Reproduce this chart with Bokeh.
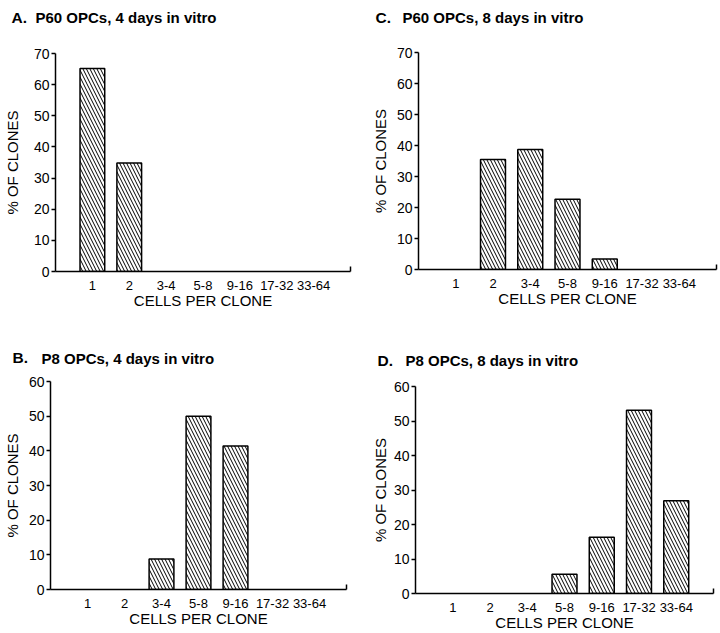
from bokeh.plotting import figure
from bokeh.models import Range1d, FixedTicker, Label, ColumnDataSource
from bokeh.layouts import column, row
from bokeh.embed import file_html
from bokeh.resources import INLINE

# ---- data ----
categories = ["1", "2", "3-4", "5-8", "9-16", "17-32", "33-64"]
a_values = [65.2, 34.8, 0, 0, 0, 0, 0]          # P60, 4 days
c_values = [0, 35.5, 38.7, 22.7, 3.4, 0, 0]     # P60, 8 days
b_values = [0, 0, 8.8, 50.0, 41.4, 0, 0]        # P8, 4 days
d_values = [0, 0, 0, 5.6, 16.3, 53.1, 26.9]     # P8, 8 days

a_ymax, c_ymax, b_ymax, d_ymax = 70, 70, 60, 60
y_step = 10

titles = {
    "A": "P60 OPCs, 4 days in vitro",
    "C": "P60 OPCs, 8 days in vitro",
    "B": "P8 OPCs, 4 days in vitro",
    "D": "P8 OPCs, 8 days in vitro",
}
x_label = "CELLS PER CLONE"
y_label = "% OF CLONES"

FONT = "Liberation Sans"


def make_panel(letter, values, ymax, w, h, bl, br, bt, bb, ylab_standoff,
               letter_x, title_x, letter_base, title_base):
    positions = [i + 1 for i in range(len(categories))]
    xs = [x for x, v in zip(positions, values) if v > 0]
    tops = [v for v in values if v > 0]
    src = ColumnDataSource(dict(x=xs, top=tops))

    p = figure(width=w, height=h, output_backend="svg", toolbar_location=None,
               x_range=Range1d(0, len(categories) + 1), y_range=Range1d(0, ymax),
               min_border_left=bl, min_border_right=br,
               min_border_top=bt, min_border_bottom=bb)
    p.outline_line_color = None
    p.xgrid.visible = False
    p.ygrid.visible = False
    p.background_fill_color = "white"
    p.border_fill_color = "white"

    p.vbar(x="x", top="top", bottom=0, width=0.67, source=src,
           fill_color="white", line_color="black", line_width=1.5,
           hatch_pattern="\\", hatch_color="black", hatch_weight=1.0,
           hatch_scale=7)

    # x axis
    xa = p.xaxis[0]
    xa.ticker = FixedTicker(ticks=positions, minor_ticks=[len(categories) + 1])
    xa.major_label_overrides = {pos: lab for pos, lab in zip(positions, categories)}
    xa.major_tick_in = 0
    xa.major_tick_out = 0
    xa.minor_tick_in = 5
    xa.minor_tick_out = 0
    xa.minor_tick_line_width = 1.5
    xa.minor_tick_line_color = "black"
    xa.axis_line_width = 1.5
    xa.axis_line_color = "black"
    xa.major_label_text_font = FONT
    xa.major_label_text_font_size = "13px"
    xa.major_label_text_color = "black"
    xa.major_label_standoff = 9
    xa.axis_label = x_label
    xa.axis_label_text_font = FONT
    xa.axis_label_text_font_size = "15px"
    xa.axis_label_text_font_style = "normal"
    xa.axis_label_text_color = "black"
    xa.axis_label_standoff = -1

    # y axis
    ya = p.yaxis[0]
    ya.ticker = FixedTicker(ticks=list(range(0, ymax + 1, y_step)), minor_ticks=[])
    ya.major_tick_in = 0
    ya.major_tick_out = 4
    ya.major_tick_line_width = 1.5
    ya.major_tick_line_color = "black"
    ya.minor_tick_in = 0
    ya.minor_tick_out = 0
    ya.axis_line_width = 1.5
    ya.axis_line_color = "black"
    ya.major_label_text_font = FONT
    ya.major_label_text_font_size = "14px"
    ya.major_label_text_color = "black"
    ya.major_label_standoff = 2
    ya.axis_label = y_label
    ya.axis_label_text_font = FONT
    ya.axis_label_text_font_size = "15px"
    ya.axis_label_text_font_style = "normal"
    ya.axis_label_text_color = "black"
    ya.axis_label_standoff = ylab_standoff

    # panel letter and title, in canvas pixels
    p.title.text = ""
    p.add_layout(Label(x=letter_x, y=letter_base, x_units="canvas", y_units="canvas",
                       text=letter + ".", text_font=FONT, text_font_size="15.5px",
                       text_font_style="bold", text_color="black",
                       text_baseline="alphabetic"), "above")
    p.add_layout(Label(x=title_x, y=title_base, x_units="canvas", y_units="canvas",
                       text=titles[letter], text_font=FONT, text_font_size="15px",
                       text_font_style="bold", text_color="black",
                       text_baseline="alphabetic"), "above")
    return p


# top row canvases start 8px above the page (layout margin)
pA = make_panel("A", a_values, a_ymax, 362, 326, 52, 12, 61, 47, 10, 11, 35, 25, 25)
pC = make_panel("C", c_values, c_ymax, 358, 326, 56, 4, 60, 49, 5, 13, 40, 25, 25)
pB = make_panel("B", b_values, b_ymax, 362, 315, 47, 16, 63, 44, 5, 12, 41, 39, 40)
pD = make_panel("D", d_values, d_ymax, 358, 315, 53, 7, 68, 40, 2, 15, 43, 42, 42)

layout = column(row(column(pA), column(pC)), row(column(pB), column(pD)))
layout.margin = (-8, -8, -8, 0)

open("out.html", "w").write(file_html(layout, INLINE))
